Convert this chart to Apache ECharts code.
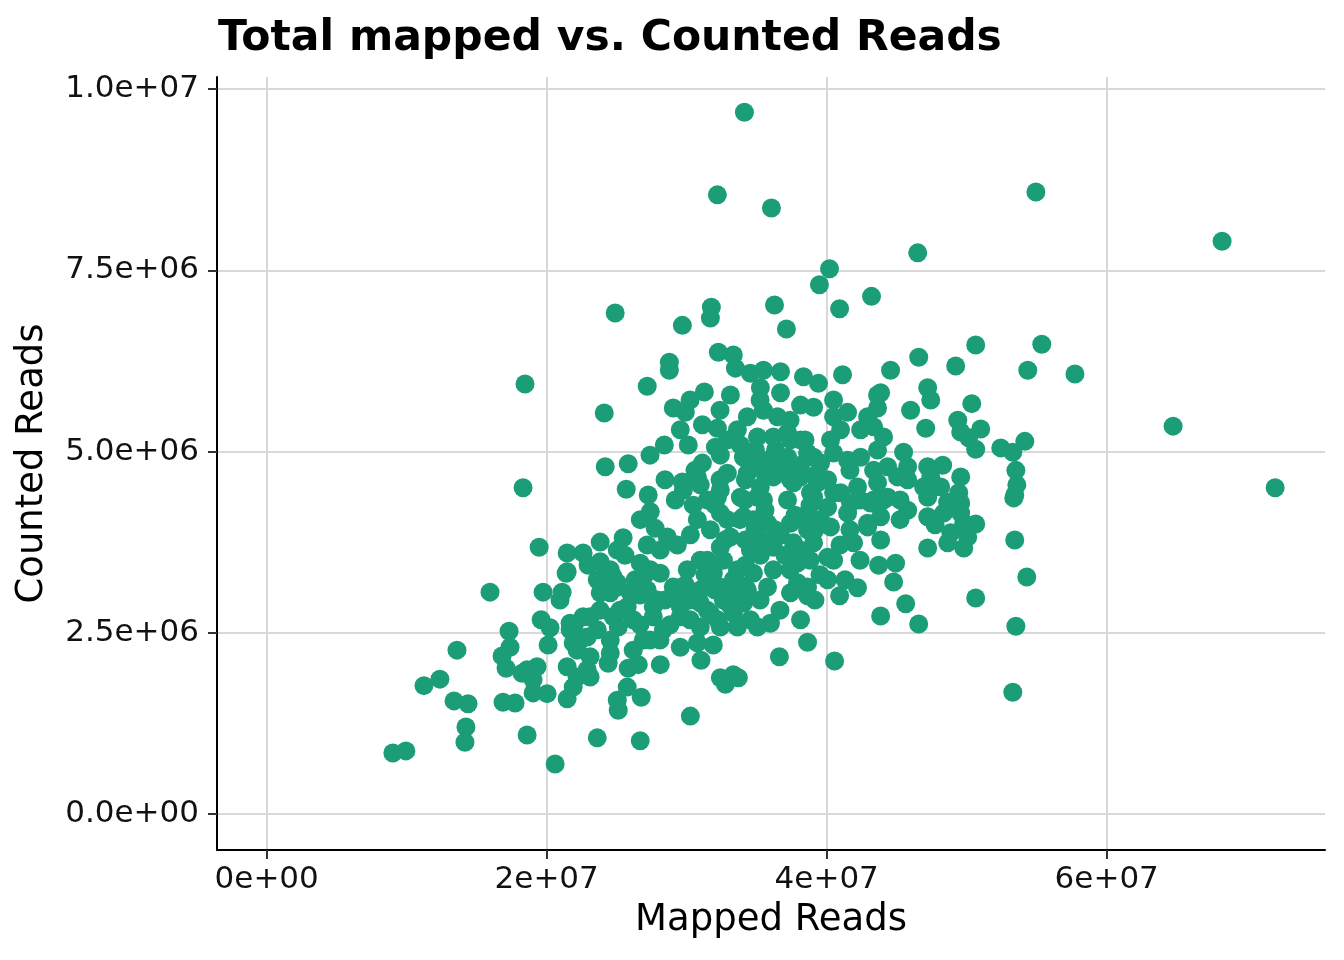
<!DOCTYPE html>
<html><head><meta charset="utf-8">
<script src="https://cdn.jsdelivr.net/npm/echarts@6/dist/echarts.min.js"></script>
<style>html,body{margin:0;padding:0;background:#fff}#chart{width:1344px;height:960px}</style>
</head><body><div id="chart"></div>
<script>
const chartTitle = 'Total mapped vs. Counted Reads';
const xAxisTitle = 'Mapped Reads';
const yAxisTitle = 'Counted Reads';
const xTickValues = [0, 2e7, 4e7, 6e7];
const xTickLabels = ['0e+00', '2e+07', '4e+07', '6e+07'];
const yTickValues = [0, 2.5e6, 5e6, 7.5e6, 1e7];
const yTickLabels = ['0.0e+00', '2.5e+06', '5.0e+06', '7.5e+06', '1.0e+07'];
const xRange = [-3.55e6, 75.59e6];
const yRange = [-0.497e6, 10.166e6];

const mappedReads = [
34.12e6,32.19e6,36.05e6,54.94e6,68.24e6,46.50e6,40.20e6,39.48e6,43.20e6,36.27e6,40.92e6,24.89e6,31.76e6,31.69e6,37.12e6,29.69e6,46.57e6,50.64e6,55.36e6,57.73e6,
54.36e6,49.21e6,44.56e6,64.74e6,72.03e6,54.15e6,52.43e6,53.29e6,18.45e6,24.11e6,18.31e6,15.95e6,19.46e6,13.59e6,11.23e6,12.37e6,13.38e6,14.38e6,14.23e6,14.16e6,
9.01e6,9.94e6,18.60e6,20.60e6,23.61e6,26.68e6,30.26e6,32.76e6,33.69e6,21.46e6,26.75e6,25.04e6,53.29e6,53.51e6,54.29e6,50.64e6,46.57e6,45.64e6,43.85e6,40.56e6,
38.63e6,36.62e6,38.63e6,38.13e6,40.92e6,42.20e6,44.78e6,44.92e6,47.21e6,49.79e6,50.64e6,53.43e6,53.43e6,53.51e6,53.58e6,53.36e6,
19.74e6,21.10e6,21.39e6,23.61e6,24.03e6,25.04e6,19.60e6,20.24e6,17.31e6,17.38e6,16.81e6,17.10e6,18.24e6,20.10e6,21.67e6,22.60e6,23.61e6,24.54e6,25.11e6,22.17e6,
23.10e6,24.39e6,21.46e6,19.31e6,19.03e6,22.17e6,23.10e6,21.89e6,16.88e6,17.74e6,19.03e6,20.03e6,25.11e6,25.75e6,25.82e6,
25.68e6,27.25e6,27.40e6,29.18e6,29.76e6,30.47e6,21.46e6,22.60e6,23.82e6,25.46e6,25.04e6,27.18e6,28.61e6,29.33e6,21.46e6,25.04e6,23.82e6,26.68e6,28.11e6,30.04e6,
31.47e6,32.62e6,33.62e6,27.18e6,29.04e6,30.97e6,32.40e6,34.33e6,25.75e6,27.61e6,29.54e6,31.47e6,33.33e6,34.55e6,21.67e6,26.18e6,28.33e6,29.54e6,30.76e6,31.90e6,
33.62e6,21.89e6,24.54e6,26.18e6,26.90e6,28.11e6,26.54e6,33.33e6,32.40e6,18.60e6,22.89e6,
32.26e6,33.33e6,28.76e6,28.76e6,33.48e6,34.55e6,35.48e6,36.70e6,38.34e6,39.41e6,27.18e6,31.26e6,33.12e6,35.26e6,36.70e6,38.13e6,39.06e6,40.49e6,29.04e6,29.90e6,
34.33e6,35.48e6,36.48e6,40.49e6,29.54e6,31.12e6,32.19e6,33.62e6,35.05e6,37.20e6,38.13e6,40.27e6,28.40e6,30.11e6,32.90e6,24.18e6,25.82e6,31.12e6,32.40e6,34.05e6,
35.77e6,37.20e6,39.06e6,40.49e6,29.69e6,30.76e6,32.90e6,34.33e6,36.19e6,38.13e6,40.06e6,32.19e6,33.83e6,35.48e6,37.20e6,39.06e6,40.49e6,30.76e6,32.90e6,34.76e6,
38.13e6,39.56e6,
41.13e6,47.21e6,47.43e6,45.99e6,47.07e6,43.63e6,43.63e6,41.49e6,42.92e6,42.42e6,43.35e6,44.06e6,40.99e6,43.63e6,45.49e6,42.42e6,41.49e6,45.78e6,47.21e6,43.35e6,
44.35e6,43.63e6,45.78e6,46.92e6,47.21e6,44.35e6,43.13e6,40.99e6,39.34e6,40.06e6,41.70e6,43.85e6,45.78e6,47.21e6,42.92e6,38.63e6,37.41e6,36.19e6,37.41e6,38.63e6,
39.56e6,
50.36e6,49.36e6,51.00e6,49.57e6,50.14e6,50.64e6,43.85e6,45.06e6,48.28e6,49.57e6,47.43e6,48.14e6,49.43e6,48.64e6,49.57e6,48.35e6,49.57e6,49.79e6,48.86e6,50.07e6,
48.64e6,43.85e6,44.06e6,
42.92e6,43.71e6,41.92e6,40.06e6,40.06e6,38.63e6,37.41e6,35.77e6,35.98e6,35.05e6,42.20e6,43.35e6,41.49e6,40.27e6,39.06e6,40.49e6,37.91e6,36.19e6,34.76e6,33.33e6,
31.90e6,32.62e6,34.05e6,31.69e6,32.40e6,33.12e6,32.40e6,31.47e6,34.55e6,36.19e6,37.63e6,38.63e6,35.77e6,34.05e6,32.40e6,31.47e6,35.05e6,38.84e6,35.26e6,37.63e6,
23.10e6,22.89e6,24.75e6,27.61e6,29.54e6,30.97e6,32.19e6,37.91e6,33.62e6,30.97e6,29.33e6,27.90e6,24.75e6,25.97e6,24.54e6,
26.68e6,27.75e6,30.26e6,31.69e6,28.11e6,30.97e6,29.90e6,26.32e6,27.40e6,34.19e6,35.26e6,36.70e6,35.26e6,34.19e6,32.40e6,34.19e6,35.62e6,30.97e6,36.70e6,34.91e6,
36.34e6,38.13e6,37.41e6,39.20e6,33.83e6,32.05e6,23.82e6,22.96e6,24.54e6,
32.74e6,35.59e6,37.02e6,34.88e6,34.16e6,36.31e6,37.74e6,39.16e6,35.24e6,36.66e6,37.38e6,38.81e6,39.16e6,30.24e6,28.45e6,27.02e6,25.59e6,31.31e6,33.81e6,32.38e6,
30.59e6,28.45e6,27.38e6,30.24e6,35.24e6,32.38e6,37.38e6,38.45e6,41.66e6,42.38e6,45.24e6,45.24e6,47.74e6,41.66e6,40.95e6,42.38e6,41.31e6,39.52e6,22.38e6,20.95e6,
21.97e6,23.81e6,26.66e6,28.09e6,31.02e6,
35.95e6,37.02e6,34.88e6,32.02e6,33.09e6,28.81e6,30.24e6,27.38e6,25.23e6,26.66e6,38.81e6,35.24e6,33.81e6,38.09e6,32.02e6
];

const countedReads = [
9.68e6,8.54e6,8.36e6,8.58e6,7.90e6,7.74e6,7.52e6,7.30e6,7.14e6,7.02e6,6.97e6,6.91e6,6.99e6,6.84e6,6.69e6,6.74e6,6.30e6,6.47e6,6.48e6,6.07e6,
6.12e6,6.18e6,6.12e6,5.35e6,4.50e6,5.14e6,5.05e6,4.99e6,5.93e6,5.53e6,4.50e6,3.06e6,3.68e6,2.26e6,1.77e6,1.86e6,1.56e6,1.52e6,1.20e6,0.99e6,
0.84e6,0.87e6,1.09e6,0.69e6,1.05e6,1.01e6,1.35e6,1.79e6,1.88e6,1.59e6,1.61e6,1.57e6,1.68e6,2.59e6,3.27e6,2.98e6,2.62e6,2.90e6,2.73e6,2.11e6,
3.01e6,2.17e6,2.37e6,2.68e6,3.01e6,3.12e6,3.20e6,3.46e6,3.67e6,3.67e6,4.00e6,3.78e6,4.40e6,4.74e6,4.54e6,4.36e6,
3.06e6,3.06e6,3.32e6,3.23e6,3.09e6,3.19e6,2.68e6,2.57e6,2.52e6,2.30e6,2.18e6,2.01e6,1.94e6,2.33e6,2.54e6,2.72e6,2.54e6,2.40e6,2.58e6,2.26e6,
2.17e6,2.08e6,2.03e6,2.03e6,1.85e6,1.89e6,1.89e6,1.75e6,1.54e6,1.53e6,1.67e6,1.66e6,1.43e6,1.75e6,2.01e6,
4.48e6,4.40e6,4.17e6,4.33e6,4.47e6,4.26e6,3.60e6,3.60e6,3.75e6,3.81e6,3.64e6,3.71e6,3.82e6,3.71e6,3.34e6,3.13e6,3.05e6,3.46e6,3.32e6,3.37e6,
3.41e6,3.50e6,3.37e6,3.09e6,3.13e6,3.09e6,3.13e6,3.09e6,2.86e6,2.86e6,2.86e6,2.81e6,2.77e6,2.68e6,2.63e6,2.68e6,2.54e6,2.30e6,2.36e6,2.33e6,
2.58e6,2.36e6,2.22e6,2.26e6,2.40e6,2.06e6,2.06e6,1.92e6,1.88e6,1.99e6,1.99e6,
6.37e6,6.33e6,6.23e6,6.12e6,6.15e6,6.08e6,6.12e6,6.10e6,6.03e6,5.94e6,5.90e6,5.82e6,5.78e6,5.88e6,5.81e6,5.64e6,5.61e6,5.71e6,5.60e6,5.54e6,
5.48e6,5.57e6,5.48e6,5.48e6,5.30e6,5.37e6,5.32e6,5.30e6,5.20e6,5.26e6,5.16e6,5.16e6,5.09e6,5.09e6,5.16e6,4.79e6,4.83e6,4.84e6,4.95e6,4.92e6,
4.88e6,4.92e6,4.92e6,4.98e6,4.58e6,4.65e6,4.70e6,4.70e6,4.65e6,4.65e6,4.61e6,4.37e6,4.37e6,4.33e6,4.33e6,4.37e6,4.43e6,4.06e6,4.06e6,4.06e6,
4.10e6,4.06e6,
6.06e6,5.88e6,5.71e6,5.57e6,5.32e6,5.78e6,5.60e6,5.54e6,5.48e6,5.30e6,5.34e6,5.20e6,5.30e6,5.02e6,4.99e6,4.92e6,4.88e6,4.79e6,4.79e6,4.74e6,
4.79e6,4.57e6,4.61e6,4.51e6,4.37e6,4.37e6,4.29e6,4.43e6,4.57e6,4.23e6,4.29e6,4.10e6,4.19e6,4.10e6,4.01e6,4.10e6,4.01e6,5.20e6,5.16e6,4.98e6,
4.84e6,
5.66e6,5.43e6,5.31e6,5.27e6,5.19e6,5.03e6,5.81e6,4.65e6,4.81e6,4.65e6,4.65e6,4.51e6,4.43e6,4.30e6,4.29e6,4.15e6,4.15e6,4.01e6,3.88e6,3.82e6,
3.74e6,3.78e6,4.33e6,
3.96e6,3.43e6,3.74e6,3.23e6,3.54e6,3.13e6,3.05e6,3.13e6,2.63e6,2.58e6,4.51e6,4.33e6,4.15e6,3.96e6,3.74e6,3.50e6,3.46e6,3.37e6,3.32e6,3.23e6,
3.32e6,2.95e6,2.91e6,2.77e6,2.58e6,3.82e6,3.68e6,3.50e6,3.64e6,3.68e6,3.74e6,3.92e6,4.01e6,4.10e6,4.15e6,4.33e6,4.37e6,4.43e6,4.51e6,4.57e6,
2.72e6,2.44e6,2.72e6,2.72e6,2.72e6,2.58e6,2.68e6,3.19e6,3.05e6,2.91e6,2.99e6,2.95e6,3.27e6,3.05e6,3.05e6,
4.06e6,3.94e6,3.85e6,3.92e6,3.64e6,3.50e6,3.16e6,3.23e6,3.37e6,3.78e6,3.57e6,3.85e6,3.78e6,3.43e6,4.47e6,4.61e6,4.68e6,4.54e6,4.84e6,5.02e6,
5.02e6,4.81e6,4.61e6,4.68e6,5.09e6,5.06e6,3.48e6,3.43e6,3.37e6,
3.78e6,4.19e6,4.74e6,4.81e6,4.33e6,3.92e6,4.12e6,3.92e6,2.95e6,2.81e6,3.37e6,3.50e6,2.95e6,2.68e6,2.95e6,3.30e6,3.57e6,3.30e6,3.16e6,4.61e6,
4.74e6,4.61e6,4.95e6,5.71e6,5.71e6,5.57e6,5.43e6,5.16e6,4.74e6,4.33e6,4.06e6,4.33e6,3.99e6,3.92e6,3.71e6,3.50e6,3.23e6,3.30e6,2.40e6,2.95e6,
2.61e6,2.81e6,2.61e6,2.40e6,2.12e6,
3.71e6,3.57e6,3.92e6,3.09e6,2.88e6,2.61e6,2.95e6,2.40e6,2.81e6,3.02e6,4.26e6,4.88e6,4.06e6,3.64e6,4.26e6
];

const font = 'DejaVu Sans';
const pick = (vals, labels) => (v) => { const i = vals.indexOf(v); return i >= 0 ? labels[i] : ''; };

const chart = echarts.init(document.getElementById('chart'), null, { renderer: 'canvas' });
chart.setOption({
  animation: false,
  backgroundColor: '#ffffff',
  title: {
    text: chartTitle, left: 213, top: 12,
    textStyle: { fontFamily: font, fontWeight: 'bold', fontSize: 42.5, color: '#000' }
  },
  grid: { left: 217, right: 19, top: 77, bottom: 110, containLabel: false },
  xAxis: {
    type: 'value', min: xRange[0], max: xRange[1],
    name: xAxisTitle, nameLocation: 'middle', nameGap: 52,
    nameTextStyle: { fontFamily: font, fontSize: 37, color: '#000' },
    axisLine: { show: true, onZero: false, lineStyle: { color: '#000', width: 2 } },
    axisTick: { show: true, length: 9, customValues: xTickValues, lineStyle: { color: '#333', width: 2 } },
    axisLabel: { customValues: xTickValues, margin: 14, fontFamily: font, fontSize: 31, color: '#111', formatter: pick(xTickValues, xTickLabels) },
    splitLine: { show: true, lineStyle: { color: '#d9d9d9', width: 2 } }
  },
  yAxis: {
    type: 'value', min: yRange[0], max: yRange[1],
    name: yAxisTitle, nameLocation: 'middle', nameGap: 166, nameRotate: 90,
    nameTextStyle: { fontFamily: font, fontSize: 37, color: '#000' },
    axisLine: { show: true, onZero: false, lineStyle: { color: '#000', width: 2 } },
    axisTick: { show: true, length: 9, customValues: yTickValues, lineStyle: { color: '#333', width: 2 } },
    axisLabel: { customValues: yTickValues, margin: 18, fontFamily: font, fontSize: 31, color: '#111', formatter: pick(yTickValues, yTickLabels) },
    splitLine: { show: true, lineStyle: { color: '#d9d9d9', width: 2 } }
  },
  series: [{
    type: 'scatter',
    data: mappedReads.map((x, i) => [x, countedReads[i]]),
    symbol: 'circle', symbolSize: 19,
    itemStyle: { color: '#1b9e77', opacity: 1 },
    emphasis: { disabled: true }
  }]
});
</script>
</body></html>
